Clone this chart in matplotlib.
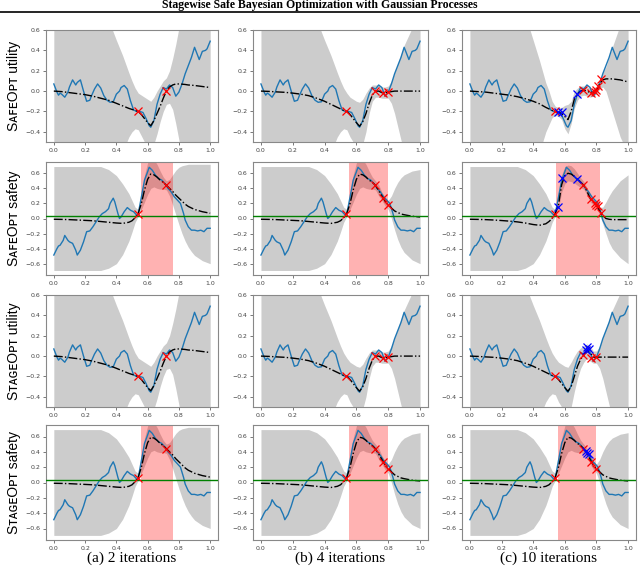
import matplotlib

matplotlib.use("Agg")
import matplotlib.pyplot as plt

# --- data ------------------------------------------------------------------
# true functions (blue)
X_TRUE = [0.0, 0.02, 0.03, 0.04, 0.05, 0.07, 0.09, 0.10, 0.12, 0.14, 0.15, 0.17,
          0.19, 0.21, 0.23, 0.24, 0.26, 0.28, 0.30, 0.32, 0.34, 0.36, 0.38, 0.40,
          0.42, 0.43, 0.45, 0.47, 0.49, 0.51, 0.53, 0.55, 0.57, 0.59, 0.61, 0.62,
          0.64, 0.66, 0.68, 0.70, 0.72, 0.74, 0.76, 0.78, 0.80, 0.82, 0.84, 0.86,
          0.88, 0.90, 0.92, 0.93, 0.95, 0.97, 0.98, 1.0]
UTIL_TRUE = [0.07, -0.01, -0.04, -0.02, -0.03, -0.06, -0.01, 0.04, 0.11, 0.06, 0.085, 0.11,
             0.0, -0.10, -0.09, -0.05, 0.02, 0.07, 0.03, -0.045, -0.09, -0.11, -0.105, -0.03,
             0.0, 0.035, 0.055, 0.02, -0.095, -0.185, -0.20, -0.20, -0.21, -0.27, -0.34, -0.355,
             -0.29, -0.13, -0.03, 0.035, 0.02, 0.06, 0.035, -0.05, -0.01, 0.07, 0.17, 0.25,
             0.33, 0.43, 0.35, 0.31, 0.39, 0.40, 0.415, 0.49]

X_SAFE = [0.0, 0.02, 0.03, 0.04, 0.06, 0.07, 0.09, 0.10, 0.12, 0.14, 0.15, 0.17,
          0.19, 0.21, 0.23, 0.25, 0.27, 0.29, 0.31, 0.33, 0.35, 0.36, 0.38, 0.39,
          0.41, 0.42, 0.43, 0.45, 0.47, 0.49, 0.51, 0.53, 0.54, 0.56, 0.58, 0.60,
          0.61, 0.63, 0.65, 0.67, 0.69, 0.71, 0.73, 0.75, 0.77, 0.79, 0.81, 0.83,
          0.84, 0.86, 0.88, 0.90, 0.92, 0.94, 0.96, 0.98, 1.0]
SAFE_TRUE = [-0.485, -0.40, -0.365, -0.355, -0.29, -0.225, -0.29, -0.31, -0.33, -0.42, -0.485, -0.42,
             -0.31, -0.175, -0.165, -0.11, -0.045, 0.02, 0.065, 0.09, 0.13, 0.20, 0.27, 0.22,
             0.065, 0.0, 0.02, 0.09, 0.145, 0.11, 0.09, 0.045, 0.065, 0.285, 0.51, 0.62,
             0.68, 0.64, 0.575, 0.53, 0.51, 0.465, 0.40, 0.355, 0.29, 0.245, 0.20, 0.065,
             -0.02, -0.11, -0.155, -0.155, -0.165, -0.155, -0.175, -0.13, -0.13]

SAFE_THRESHOLD = 0.03

# GP posterior: mean and confidence band on a common grid
X_GP = [0.0, 0.05, 0.1, 0.15, 0.2, 0.25, 0.3, 0.35, 0.4, 0.44, 0.48, 0.5, 0.52, 0.54,
        0.56, 0.58, 0.6, 0.62, 0.64, 0.66, 0.68, 0.7, 0.72, 0.74, 0.76, 0.78, 0.8,
        0.82, 0.84, 0.86, 0.88, 0.9, 0.95, 1.0]

# utility, 2 iterations (both methods)
U1_MEAN = [0.0, -0.005, -0.015, -0.025, -0.035, -0.05, -0.07, -0.09, -0.12, -0.145, -0.17, -0.18, -0.19, -0.2,
           -0.23, -0.27, -0.31, -0.34, -0.29, -0.22, -0.15, -0.07, 0.0, 0.04, 0.06, 0.07, 0.07,
           0.068, 0.065, 0.06, 0.058, 0.055, 0.045, 0.035]
U1_HI = [1.5, 1.5, 1.5, 1.5, 1.5, 1.5, 1.5, 0.7, 0.5, 0.35, 0.18, 0.1, 0.03, -0.02,
         -0.04, -0.06, -0.08, -0.1, -0.06, 0.0, 0.05, 0.1, 0.13, 0.2, 0.32, 0.46, 0.62,
         0.8, 1.5, 1.5, 1.5, 1.5, 1.5, 1.5]
U1_LO = [-1.5, -1.5, -1.5, -1.5, -1.5, -1.5, -1.5, -1.5, -1.5, -0.6, -0.45, -0.4, -0.37, -0.38,
         -0.44, -0.5, -0.55, -0.58, -0.52, -0.42, -0.3, -0.2, -0.13, -0.12, -0.18, -0.32, -0.48,
         -0.65, -0.85, -1.5, -1.5, -1.5, -1.5, -1.5]

# utility, 4 iterations (both methods)
U2_MEAN = [0.0, -0.003, -0.008, -0.012, -0.02, -0.03, -0.045, -0.07, -0.1, -0.13, -0.16, -0.175, -0.19, -0.2,
           -0.23, -0.27, -0.31, -0.345, -0.3, -0.22, -0.12, -0.04, 0.0, 0.0, -0.015, -0.015, -0.01,
           -0.005, 0.0, 0.0, 0.0, 0.0, 0.0, 0.0]
U2_HI = [1.5, 1.5, 1.5, 1.5, 1.5, 1.5, 1.5, 0.7, 0.5, 0.35, 0.18, 0.1, 0.03, -0.02,
         -0.06, -0.08, -0.1, -0.11, -0.08, -0.02, 0.03, 0.06, 0.06, 0.06, 0.04, 0.04, 0.05,
         0.1, 0.18, 0.27, 0.36, 0.45, 0.62, 0.8]
U2_LO = [-1.5, -1.5, -1.5, -1.5, -1.5, -1.5, -1.5, -1.5, -1.5, -0.6, -0.45, -0.4, -0.37, -0.38,
         -0.45, -0.5, -0.55, -0.58, -0.52, -0.4, -0.22, -0.1, -0.06, -0.06, -0.07, -0.07, -0.07,
         -0.12, -0.22, -0.35, -0.48, -0.6, -0.9, -1.2]

# utility, 10 iterations, SafeOpt
U3A_MEAN = [0.0, -0.005, -0.01, -0.02, -0.03, -0.04, -0.055, -0.075, -0.1, -0.125, -0.16, -0.175, -0.19, -0.2,
            -0.21, -0.22, -0.25, -0.28, -0.2, -0.08, -0.03, 0.0, 0.01, 0.0, -0.015, -0.01, 0.01,
            0.07, 0.11, 0.12, 0.12, 0.12, 0.11, 0.09]
U3A_HI = [1.5, 1.5, 1.5, 1.5, 1.5, 1.5, 1.5, 0.75, 0.5, 0.3, 0.08, 0.0, -0.1, -0.15,
          -0.16, -0.16, -0.14, -0.13, -0.1, 0.0, 0.03, 0.05, 0.05, 0.04, 0.03, 0.03, 0.05,
          0.12, 0.18, 0.24, 0.33, 0.43, 0.65, 0.8]
U3A_LO = [-1.5, -1.5, -1.5, -1.5, -1.5, -1.5, -1.5, -1.5, -1.5, -0.6, -0.4, -0.33, -0.26, -0.24,
          -0.25, -0.28, -0.37, -0.42, -0.32, -0.17, -0.09, -0.05, -0.04, -0.05, -0.06, -0.05, -0.03,
          0.02, 0.04, 0.0, -0.1, -0.2, -0.45, -0.62]

# utility, 10 iterations, StageOpt
U3B_MEAN = [0.0, -0.003, -0.008, -0.012, -0.02, -0.03, -0.045, -0.07, -0.1, -0.13, -0.16, -0.175, -0.19, -0.2,
            -0.23, -0.27, -0.31, -0.345, -0.3, -0.2, -0.1, -0.03, 0.01, 0.05, 0.03, -0.01, -0.01,
            -0.01, -0.01, -0.01, -0.01, -0.01, -0.01, -0.01]
U3B_HI = [1.5, 1.5, 1.5, 1.5, 1.5, 1.5, 1.5, 0.7, 0.5, 0.35, 0.18, 0.1, 0.03, -0.02,
          -0.06, -0.08, -0.1, -0.11, -0.06, 0.0, 0.05, 0.08, 0.1, 0.12, 0.1, 0.05, 0.05,
          0.1, 0.18, 0.27, 0.36, 0.45, 0.62, 0.75]
U3B_LO = [-1.5, -1.5, -1.5, -1.5, -1.5, -1.5, -1.5, -1.5, -1.5, -0.6, -0.45, -0.4, -0.37, -0.38,
          -0.45, -0.5, -0.55, -0.58, -0.5, -0.35, -0.22, -0.12, -0.06, -0.02, -0.05, -0.07, -0.07,
          -0.12, -0.22, -0.35, -0.48, -0.6, -0.9, -1.2]

# safety, 2 iterations
S1_MEAN = [-0.01, -0.012, -0.015, -0.02, -0.025, -0.03, -0.04, -0.05, -0.06, -0.065, -0.05, -0.03, 0.01, 0.07,
           0.2, 0.38, 0.52, 0.59, 0.58, 0.55, 0.51, 0.48, 0.44, 0.4, 0.36, 0.31, 0.27,
           0.23, 0.19, 0.16, 0.14, 0.12, 0.09, 0.07]
S1_HI = [0.69, 0.69, 0.69, 0.69, 0.69, 0.69, 0.69, 0.65, 0.57, 0.46, 0.33, 0.24, 0.15, 0.12,
         0.3, 0.58, 0.74, 0.8, 0.78, 0.72, 0.63, 0.55, 0.5, 0.52, 0.58, 0.64, 0.68,
         0.7, 0.71, 0.72, 0.72, 0.72, 0.72, 0.72]
S1_LO = [-0.69, -0.69, -0.69, -0.69, -0.69, -0.69, -0.69, -0.66, -0.6, -0.48, -0.3, -0.18, -0.05, 0.03,
         0.12, 0.22, 0.32, 0.4, 0.42, 0.4, 0.39, 0.39, 0.38, 0.3, 0.18, 0.05, -0.08,
         -0.2, -0.3, -0.38, -0.44, -0.49, -0.56, -0.6]

# safety, 4 iterations
S2_MEAN = [-0.01, -0.012, -0.015, -0.02, -0.025, -0.03, -0.04, -0.05, -0.06, -0.065, -0.05, -0.03, 0.01, 0.07,
           0.2, 0.38, 0.52, 0.59, 0.58, 0.55, 0.51, 0.48, 0.44, 0.37, 0.3, 0.23, 0.18,
           0.14, 0.1, 0.08, 0.06, 0.05, 0.03, 0.02]
S2_HI = [0.69, 0.69, 0.69, 0.69, 0.69, 0.69, 0.69, 0.65, 0.57, 0.46, 0.33, 0.24, 0.15, 0.12,
         0.3, 0.58, 0.74, 0.8, 0.78, 0.72, 0.63, 0.55, 0.5, 0.45, 0.35, 0.28, 0.24,
         0.3, 0.4, 0.48, 0.54, 0.58, 0.63, 0.65]
S2_LO = [-0.69, -0.69, -0.69, -0.69, -0.69, -0.69, -0.69, -0.66, -0.6, -0.48, -0.3, -0.18, -0.05, 0.03,
         0.12, 0.22, 0.32, 0.4, 0.42, 0.4, 0.39, 0.39, 0.38, 0.3, 0.24, 0.17, 0.12,
         0.0, -0.15, -0.28, -0.38, -0.45, -0.55, -0.6]

# safety, 10 iterations, SafeOpt
S3A_MEAN = [-0.01, -0.012, -0.015, -0.02, -0.027, -0.035, -0.045, -0.06, -0.08, -0.09, -0.07, -0.04, 0.0, 0.07,
            0.18, 0.45, 0.57, 0.6, 0.59, 0.56, 0.52, 0.48, 0.44, 0.36, 0.27, 0.22, 0.18,
            0.1, 0.04, 0.0, -0.01, -0.015, -0.015, -0.015]
S3A_HI = [0.69, 0.69, 0.69, 0.69, 0.69, 0.69, 0.69, 0.65, 0.57, 0.46, 0.33, 0.24, 0.15, 0.12,
          0.22, 0.58, 0.69, 0.71, 0.7, 0.66, 0.6, 0.54, 0.49, 0.41, 0.32, 0.26, 0.22,
          0.15, 0.15, 0.22, 0.3, 0.37, 0.5, 0.58]
S3A_LO = [-0.69, -0.69, -0.69, -0.69, -0.69, -0.69, -0.69, -0.66, -0.6, -0.48, -0.3, -0.18, -0.05, 0.03,
          0.13, 0.35, 0.46, 0.5, 0.49, 0.47, 0.44, 0.41, 0.39, 0.31, 0.22, 0.18, 0.14,
          0.05, -0.07, -0.2, -0.32, -0.4, -0.52, -0.6]

# safety, 10 iterations, StageOpt
S3B_MEAN = [-0.01, -0.012, -0.015, -0.02, -0.025, -0.03, -0.04, -0.05, -0.06, -0.065, -0.05, -0.03, 0.01, 0.07,
            0.2, 0.38, 0.52, 0.59, 0.58, 0.55, 0.51, 0.48, 0.44, 0.39, 0.3, 0.23, 0.18,
            0.14, 0.1, 0.08, 0.06, 0.05, 0.03, 0.02]
S3B_HI = [0.69, 0.69, 0.69, 0.69, 0.69, 0.69, 0.69, 0.65, 0.57, 0.46, 0.33, 0.24, 0.15, 0.12,
          0.3, 0.58, 0.74, 0.8, 0.78, 0.72, 0.63, 0.55, 0.5, 0.44, 0.35, 0.28, 0.24,
          0.3, 0.4, 0.48, 0.54, 0.58, 0.63, 0.65]
S3B_LO = [-0.69, -0.69, -0.69, -0.69, -0.69, -0.69, -0.69, -0.66, -0.6, -0.48, -0.3, -0.18, -0.05, 0.03,
          0.12, 0.22, 0.32, 0.4, 0.42, 0.4, 0.39, 0.39, 0.38, 0.34, 0.24, 0.17, 0.12,
          0.0, -0.15, -0.28, -0.38, -0.45, -0.55, -0.6]

# sampled points (red) and expander points (blue)
OBS1_X = [0.536, 0.717]
OBS1_U = [-0.2, 0.005]
OBS1_S = [0.065, 0.44]
OBS2_X = [0.536, 0.717, 0.768, 0.80]
OBS2_U = [-0.2, 0.005, -0.02, -0.01]
OBS2_S = [0.065, 0.44, 0.27, 0.18]
OBS3A_X = [0.536, 0.717, 0.764, 0.789, 0.80, 0.81, 0.827]
OBS3A_U = [-0.2, 0.01, -0.02, -0.01, 0.01, 0.05, 0.12]
OBS3A_S = [0.065, 0.44, 0.265, 0.2, 0.185, 0.16, 0.075]
EXP3A_X = [0.557, 0.584, 0.675]
EXP3A_U = [-0.21, -0.21, -0.03]
EXP3A_S = [0.155, 0.54, 0.53]
OBS3B_X = [0.536, 0.717, 0.764, 0.80]
OBS3B_U = [-0.2, 0.01, -0.015, -0.01]
OBS3B_S = [0.065, 0.44, 0.27, 0.18]
EXP3B_X = [0.732, 0.743, 0.753]
EXP3B_U = [0.06, 0.085, 0.065]
EXP3B_S = [0.41, 0.39, 0.37]

# safe set extent per column / method
SAFE_SET = {"c1": (0.56, 0.765), "c2": (0.555, 0.80), "c3a": (0.545, 0.82), "c3b": (0.555, 0.80)}

ROW_LABELS = ["S\u1d00\ua730\u1d07O\u1d18\u1d1b utility", "S\u1d00\ua730\u1d07O\u1d18\u1d1b safety",
              "S\u1d1b\u1d00\u0262\u1d07O\u1d18\u1d1b utility", "S\u1d1b\u1d00\u0262\u1d07O\u1d18\u1d1b safety"]
CAPTIONS = ["(a) 2 iterations", "(b) 4 iterations", "(c) 10 iterations"]
TITLE = "Stagewise Safe Bayesian Optimization with Gaussian Processes"

# --- layout (pixels of the 640x571 reference) --------------------------------
W, H = 640, 571
COLS = [(46, 218), (253, 428), (462, 636)]
ROWS = [(30, 142), (162, 275), (295, 407), (425, 540)]


def frac(l, r, t, b):
    return [l / W, 1 - b / H, (r - l) / W, (b - t) / H]


def panel(ax, kind, mean, lo, hi, obs, expl=None, span=None):
    if kind == "u":
        ax.plot(X_TRUE, UTIL_TRUE, color="#1f77b4", lw=1.0, zorder=3)
    else:
        ax.plot(X_SAFE, SAFE_TRUE, color="#1f77b4", lw=1.0, zorder=3)
    ax.fill_between(X_GP, lo, hi, color="k", alpha=0.2, lw=0, zorder=1)
    if span is not None:
        ax.axvspan(span[0], span[1], color="r", alpha=0.3, lw=0, zorder=2)
    ax.plot(X_GP, mean, "k-.", lw=1.0, zorder=4)
    if kind == "s":
        ax.axhline(SAFE_THRESHOLD, color="green", lw=1.0, zorder=5)
    ax.plot(obs[0], obs[1], "x", color="red", ms=5.5, mew=0.9, zorder=6)
    if expl is not None:
        ax.plot(expl[0], expl[1], "x", color="blue", ms=5.5, mew=0.9, zorder=6)

    ax.set_xlim(-0.05, 1.05)
    if kind == "u":
        ax.set_ylim(-0.5, 0.6)
        ax.set_yticks([-0.4, -0.2, 0.0, 0.2, 0.4, 0.6])
    else:
        ax.set_ylim(-0.75, 0.75)
        ax.set_yticks([-0.6, -0.4, -0.2, 0.0, 0.2, 0.4, 0.6])
    ax.set_xticks([0.0, 0.2, 0.4, 0.6, 0.8, 1.0])
    ax.tick_params(labelsize=4.5, length=2, width=0.5, colors="#444444", pad=2)
    for sp in ax.spines.values():
        sp.set_color("#888888")
        sp.set_linewidth(0.8)


fig = plt.figure(figsize=(6.4, 5.71), dpi=100)

PANELS = [
    # row 0: SafeOpt utility
    [("u", U1_MEAN, U1_LO, U1_HI, (OBS1_X, OBS1_U), None, None),
     ("u", U2_MEAN, U2_LO, U2_HI, (OBS2_X, OBS2_U), None, None),
     ("u", U3A_MEAN, U3A_LO, U3A_HI, (OBS3A_X, OBS3A_U), (EXP3A_X, EXP3A_U), None)],
    # row 1: SafeOpt safety
    [("s", S1_MEAN, S1_LO, S1_HI, (OBS1_X, OBS1_S), None, SAFE_SET["c1"]),
     ("s", S2_MEAN, S2_LO, S2_HI, (OBS2_X, OBS2_S), None, SAFE_SET["c2"]),
     ("s", S3A_MEAN, S3A_LO, S3A_HI, (OBS3A_X, OBS3A_S), (EXP3A_X, EXP3A_S), SAFE_SET["c3a"])],
    # row 2: StageOpt utility
    [("u", U1_MEAN, U1_LO, U1_HI, (OBS1_X, OBS1_U), None, None),
     ("u", U2_MEAN, U2_LO, U2_HI, (OBS2_X, OBS2_U), None, None),
     ("u", U3B_MEAN, U3B_LO, U3B_HI, (OBS3B_X, OBS3B_U), (EXP3B_X, EXP3B_U), None)],
    # row 3: StageOpt safety
    [("s", S1_MEAN, S1_LO, S1_HI, (OBS1_X, OBS1_S), None, SAFE_SET["c1"]),
     ("s", S2_MEAN, S2_LO, S2_HI, (OBS2_X, OBS2_S), None, SAFE_SET["c2"]),
     ("s", S3B_MEAN, S3B_LO, S3B_HI, (OBS3B_X, OBS3B_S), (EXP3B_X, EXP3B_S), SAFE_SET["c3b"])],
]

for i, (t, b) in enumerate(ROWS):
    for j, (l, r) in enumerate(COLS):
        ax = fig.add_axes(frac(l, r, t, b))
        panel(ax, *PANELS[i][j])
    fig.text(14 / W, 1 - (t + b) / 2 / H, ROW_LABELS[i], rotation=90, ha="center", va="center",
             fontsize=10, family=["Liberation Sans", "DejaVu Sans"])

for j, (l, r) in enumerate(COLS):
    fig.text((l + r) / 2 / W, 1 - 558 / H, CAPTIONS[j], ha="center", va="center",
             fontsize=11, family=["Liberation Serif"])

fig.text(0.5, 1 - 5 / H, TITLE, ha="center", va="center", fontsize=8.5,
         fontweight="bold", family=["Liberation Serif"])
fig.add_artist(plt.Line2D([0, 1], [1 - 12 / H, 1 - 12 / H], color="k", lw=1.2,
                          transform=fig.transFigure))

fig.savefig("out.png", dpi=100)
